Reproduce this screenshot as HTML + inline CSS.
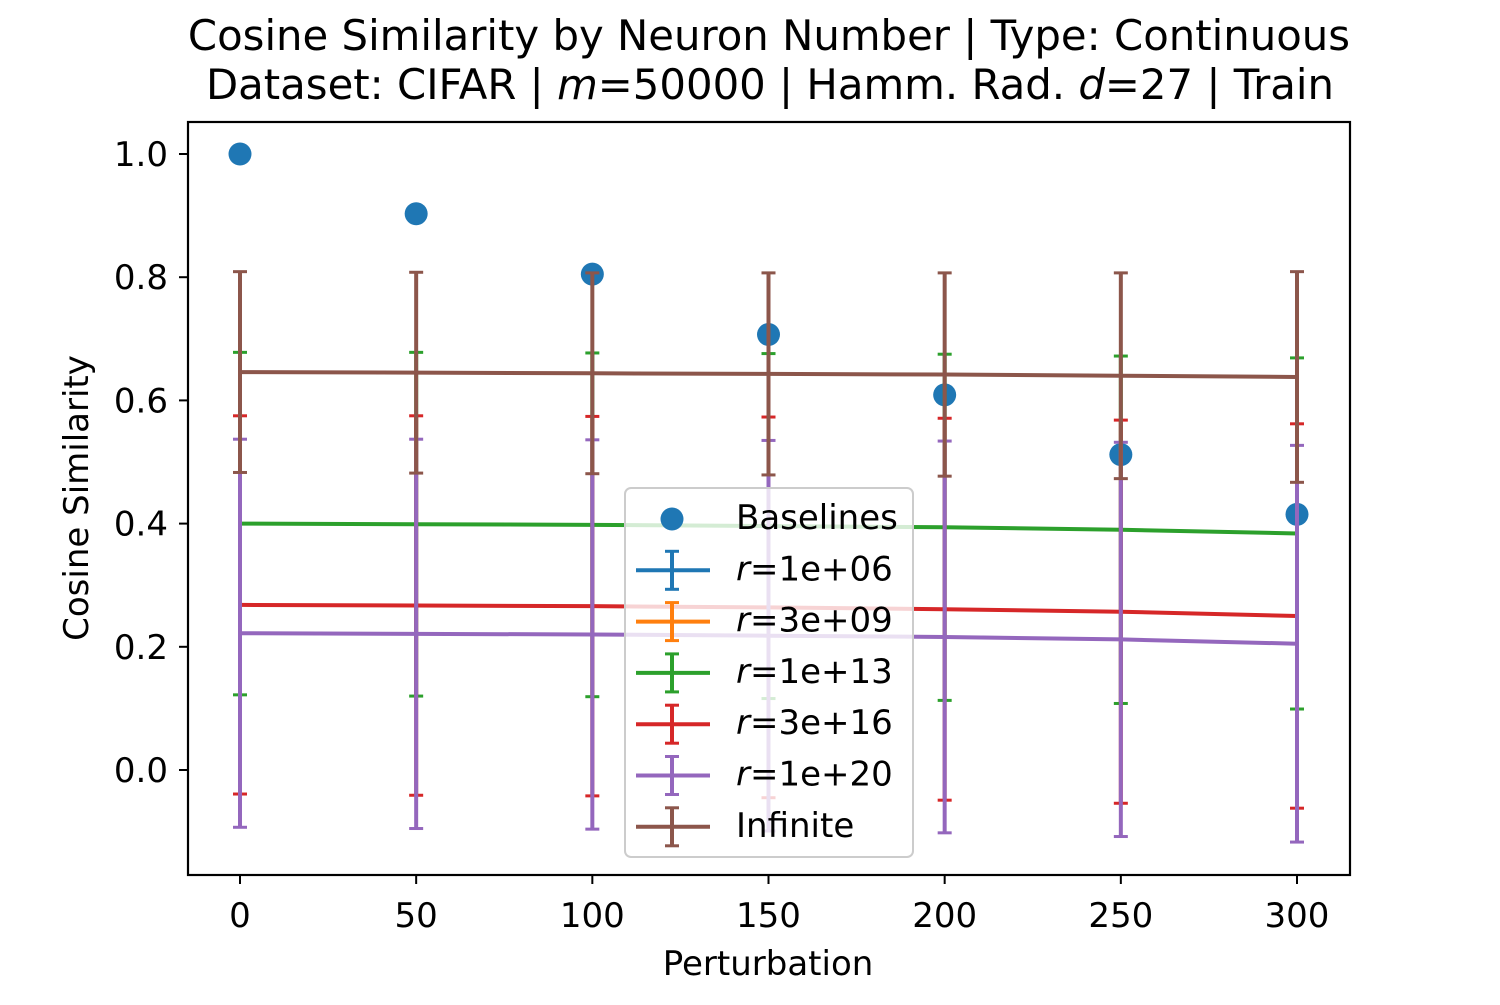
<!DOCTYPE html>
<html><head><meta charset="utf-8"><style>
body{margin:0;background:#fff;}
svg text{font-family:"DejaVu Sans","Liberation Sans",sans-serif;fill:#000;}
</style></head><body>
<svg id="chart" width="1500" height="1000" viewBox="0 0 1500 1000" xmlns="http://www.w3.org/2000/svg">
<rect width="1500" height="1000" fill="#fff"/>
<text x="769" y="50" font-size="41.8" text-anchor="middle">Cosine Similarity by Neuron Number | Type: Continuous</text>
<text x="770" y="99" font-size="41.8" text-anchor="middle">Dataset: CIFAR | <tspan font-style="italic">m</tspan>=50000 | Hamm. Rad. <tspan font-style="italic">d</tspan>=27 | Train</text>
<g id="plot"></g>
<rect x="188" y="122" width="1162" height="753" fill="none" stroke="#000" stroke-width="2.2"/>
<g id="ticks"></g>
<text x="768" y="975" font-size="34" text-anchor="middle">Perturbation</text>
<text transform="translate(88,498) rotate(-90)" font-size="34" text-anchor="middle">Cosine Similarity</text>
<g id="legend"></g>
</svg>
<script>
const xCats=[0,50,100,150,200,250,300];
const baselines=[1.0,0.903,0.805,0.707,0.609,0.512,0.415];
const brownMean=[0.646,0.645,0.644,0.643,0.642,0.640,0.638];
const brownErr=[0.163,0.163,0.163,0.164,0.165,0.167,0.171];
const greenMean=[0.400,0.399,0.398,0.396,0.394,0.390,0.384];
const greenErr=[0.278,0.279,0.279,0.280,0.281,0.282,0.285];
const redMean=[0.268,0.267,0.266,0.264,0.261,0.257,0.250];
const redErr=[0.307,0.308,0.308,0.309,0.310,0.311,0.312];
const purpleMean=[0.222,0.221,0.220,0.218,0.216,0.212,0.205];
const purpleErr=[0.315,0.316,0.316,0.317,0.318,0.320,0.322];
const xTicks=[0,50,100,150,200,250,300];
const yTicks=[0.0,0.2,0.4,0.6,0.8,1.0];
const legendLabels=["Baselines","r=1e+06","r=3e+09","r=1e+13","r=3e+16","r=1e+20","Infinite"];

const NS="http://www.w3.org/2000/svg";
const X=v=>240+(v-0)*(1297-240)/300;
const Y=v=>770-v*616;
function mk(tag,attrs,parent){const e=document.createElementNS(NS,tag);for(const k in attrs)e.setAttribute(k,attrs[k]);parent.appendChild(e);return e;}
const plot=document.getElementById('plot');
const ticks=document.getElementById('ticks');
const legend=document.getElementById('legend');

baselines.forEach((v,i)=>{
  const c=mk('circle',{cx:X(xCats[i]),cy:Y(v),r:11.5,fill:'#1f77b4'},plot);
  
  
});
const series=[
 {name:'r1e6',color:'#1f77b4',m:purpleMean,e:purpleErr,hidden:true},
 {name:'r3e9',color:'#ff7f0e',m:purpleMean,e:purpleErr,hidden:true},
 {name:'r1e13',color:'#2ca02c',m:greenMean,e:greenErr},
 {name:'r3e16',color:'#d62728',m:redMean,e:redErr},
 {name:'r1e20',color:'#9467bd',m:purpleMean,e:purpleErr},
 {name:'infinite',color:'#8c564b',m:brownMean,e:brownErr}
];
series.forEach(s=>{
  if(s.hidden) return;
  const g=mk('g',{},plot);
  
  
  const pts=s.m.map((v,i)=>X(xCats[i])+','+Y(v)).join(' ');
  const pl=mk('polyline',{points:pts,fill:'none',stroke:s.color,'stroke-width':4},g);
  
  
  s.m.forEach((v,i)=>{
    const x=X(xCats[i]),y1=Y(v+s.e[i]),y2=Y(v-s.e[i]);
    const eb=mk('line',{x1:x,x2:x,y1:y1,y2:y2,stroke:s.color,'stroke-width':4},g);
    
    
    [y1,y2].forEach(yy=>{
      const cap=mk('line',{x1:x-7,x2:x+7,y1:yy,y2:yy,stroke:s.color,'stroke-width':3},g);
      
      
    });
  });
});

xTicks.forEach(t=>{
  const x=X(t);
  const l=mk('line',{x1:x,x2:x,y1:875,y2:884,stroke:'#000','stroke-width':2},ticks);
  
  
  const tx=mk('text',{x:x,y:927,'font-size':34,'text-anchor':'middle'},ticks);
  tx.textContent=t;
  
  
});
yTicks.forEach(t=>{
  const y=Y(t);
  const l=mk('line',{x1:179,x2:188,y1:y,y2:y,stroke:'#000','stroke-width':2},ticks);
  
  
  const tx=mk('text',{x:168,y:y+12,'font-size':34,'text-anchor':'end'},ticks);
  tx.textContent=t.toFixed(1);
  
  
});

const lb=mk('rect',{x:625,y:488,width:288,height:369,rx:6,fill:'#fff','fill-opacity':0.8,stroke:'#ccc','stroke-width':2},legend);


const legColors=['#1f77b4','#1f77b4','#ff7f0e','#2ca02c','#d62728','#9467bd','#8c564b'];
legendLabels.forEach((lab,i)=>{
  const y=517+i*51.3;
  const g=mk('g',{},legend);
  
  
  if(i===0){ mk('circle',{cx:672,cy:y+2,r:11.5,fill:legColors[i]},g); }
  else{
    mk('line',{x1:636,x2:710,y1:y+2,y2:y+2,stroke:legColors[i],'stroke-width':4},g);
    mk('line',{x1:672,x2:672,y1:y-17,y2:y+21,stroke:legColors[i],'stroke-width':4},g);
    mk('line',{x1:665,x2:679,y1:y-17,y2:y-17,stroke:legColors[i],'stroke-width':3},g);
    mk('line',{x1:665,x2:679,y1:y+21,y2:y+21,stroke:legColors[i],'stroke-width':3},g);
  }
  const t=mk('text',{x:736,y:y+12,'font-size':34},g);
  if(lab.startsWith('r=')){
    const it=mk('tspan',{'font-style':'italic'},t); it.textContent='r';
    const rest=mk('tspan',{},t); rest.textContent=lab.slice(1);
  } else t.textContent=lab;
});
</script>
</body></html>
